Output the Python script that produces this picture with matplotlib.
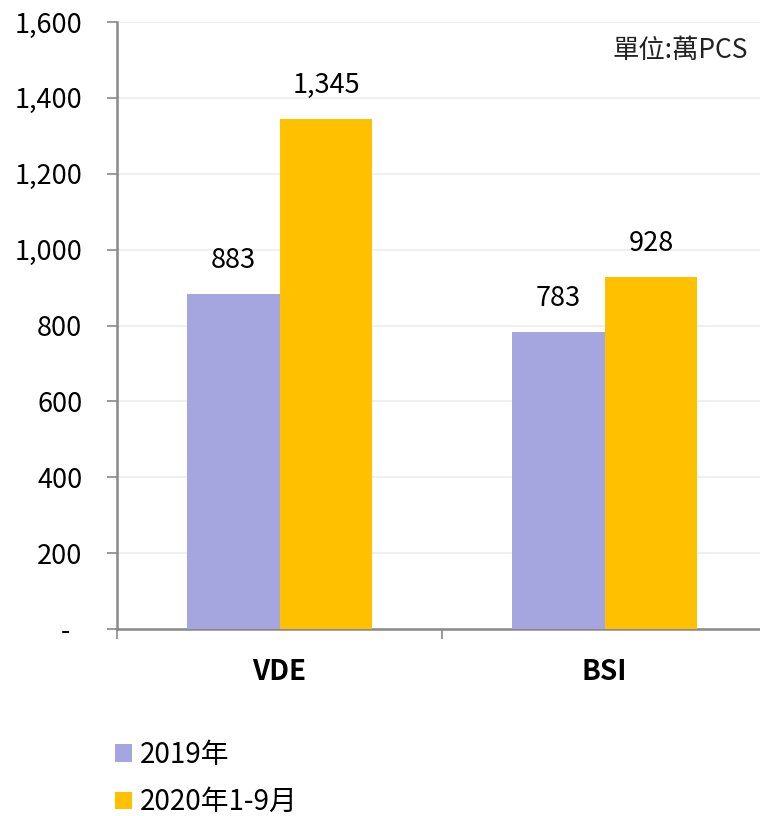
import matplotlib.pyplot as plt
import numpy as np

plt.rcParams['font.family'] = ['Noto Sans CJK TC', 'DejaVu Sans']
plt.rcParams['font.weight'] = 'medium'

categories = ['VDE', 'BSI']
series_names = ['2019年', '2020年1-9月']
v2019 = [883, 783]
v2020 = [1345, 928]
yticks = [0, 200, 400, 600, 800, 1000, 1200, 1400, 1600]
ytick_labels = ['-  ', '200', '400', '600', '800', '1,000', '1,200', '1,400', '1,600']

c_purple = '#A5A5DF'
c_orange = '#FFC000'
axis_col = '#898989'

fig = plt.figure(figsize=(7.6, 8.16), dpi=100)
ax = fig.add_axes([117 / 760, 1 - 629 / 816, 650 / 760, (629 - 22) / 816])

x = np.arange(len(categories))
w = 0.286
b1 = ax.bar(x - w / 2, v2019, w, color=c_purple, label=series_names[0], zorder=3)
b2 = ax.bar(x + w / 2, v2020, w, color=c_orange, label=series_names[1], zorder=3)

for bars, vals in ((b1, v2019), (b2, v2020)):
    for rect, v in zip(bars, vals):
        ax.annotate(f'{v:,}', (rect.get_x() + rect.get_width() / 2, v),
                    xytext=(0, 24), textcoords='offset points',
                    ha='center', va='center', fontsize=19.5, color='black')

ax.set_xlim(-0.5, 1.5)
ax.set_ylim(0, 1600)
ax.set_yticks(yticks)
ax.set_yticklabels(ytick_labels, fontsize=19.5)
ax.yaxis.grid(True, color='#ececec', linewidth=1.2, zorder=0)
ax.set_axisbelow(True)

ax.set_xticks([-0.5, 0.5, 1.5])
ax.set_xticklabels([])
ax.tick_params(axis='x', length=7, width=1.2, color=axis_col, direction='out')
ax.tick_params(axis='y', length=7, width=1.2, color=axis_col, pad=18)
for i, c in enumerate(categories):
    ax.text(x[i], -0.071, c, transform=ax.get_xaxis_transform(),
            ha='center', va='center', fontsize=20, fontweight='bold')

for s in ['top', 'right']:
    ax.spines[s].set_visible(False)
for s in ['left', 'bottom']:
    ax.spines[s].set_color(axis_col)
    ax.spines[s].set_linewidth(1.8)

fig.text(748 / 760, 1 - 50 / 816, '單位:萬PCS', ha='right', va='center', fontsize=19, color='#222222')

fig.legend(handles=[b1, b2], labels=series_names, loc='upper left',
           bbox_to_anchor=(90 / 760, 1 - 715 / 816), frameon=False,
           fontsize=20, handlelength=0.6, handleheight=0.6, handletextpad=0.3,
           labelspacing=0.62)

fig.savefig('out.png', dpi=100)
